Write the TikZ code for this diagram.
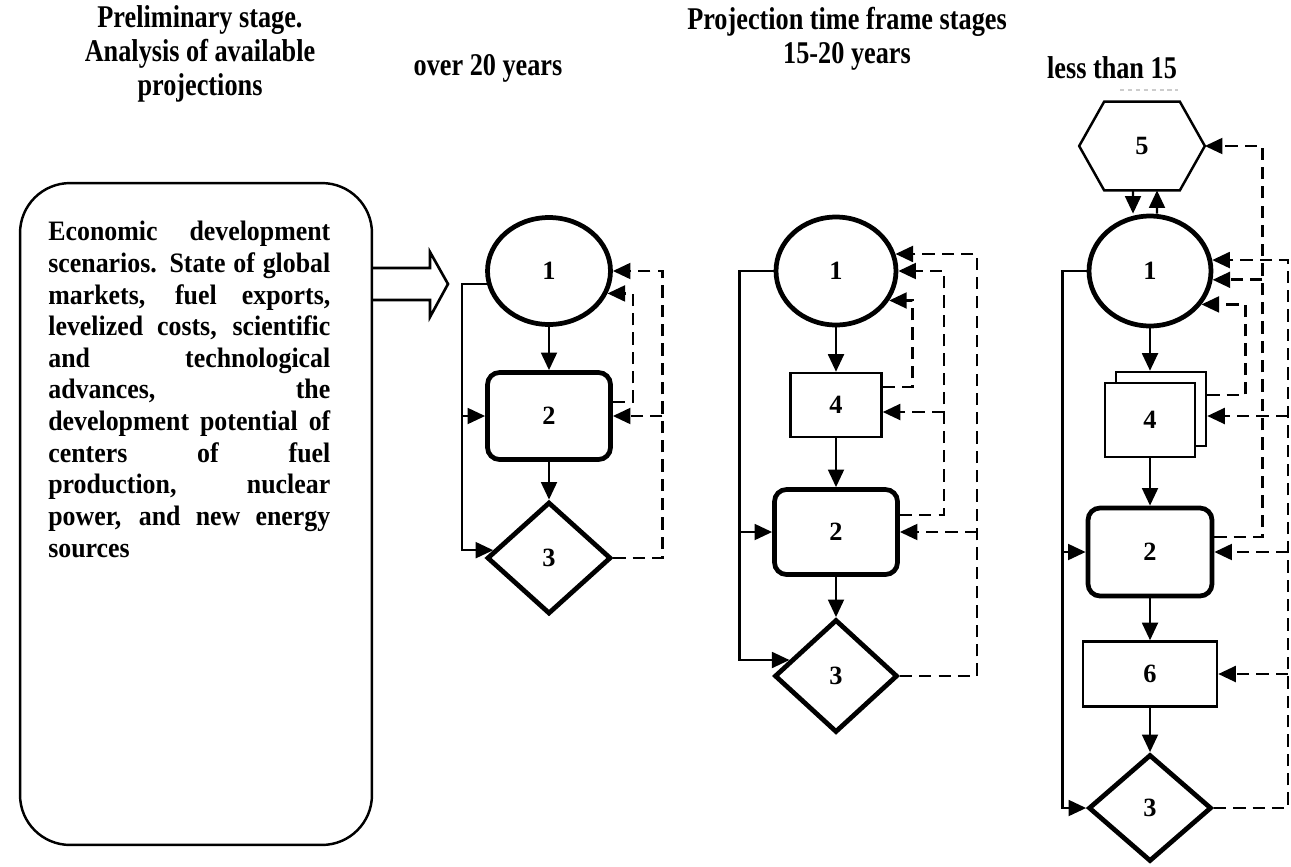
\documentclass[tikz,border=0pt]{standalone}
\usepackage{fontspec}
\setmainfont{Liberation Serif}
\newfontfamily\headfont[FakeStretch=0.83]{Liberation Serif}
\newfontfamily\bodyfont[FakeStretch=0.92]{Liberation Serif}
\usepackage{tikz}
\usetikzlibrary{arrows.meta}
\usetikzlibrary{calc}
\usetikzlibrary{positioning}
\usetikzlibrary{shapes.geometric}

\begin{document}
\begin{tikzpicture}[
    x=0.02cm, y=-0.02cm,
    num/.style={font=\fontsize{15}{17}\selectfont\bfseries, inner sep=0pt},
    oval/.style={num, ellipse, draw, line width=2.7pt},
    stagebox/.style={num, rectangle, draw, rounded corners=0.24cm, line width=2.7pt, minimum width=2.46cm, minimum height=1.74cm},
    plainbox/.style={num, rectangle, draw, fill=white, line width=1.4pt},
    choice/.style={num, diamond, draw, line width=2.7pt, minimum width=2.48cm, minimum height=2.24cm},
    arr/.style={line width=1.4pt, -{Triangle[length=10pt,width=9pt]}},
    darr/.style={line width=1.5pt, dash pattern=on 7pt off 4pt, -{Triangle[length=10pt,width=9pt]}},
    heading/.style={font=\headfont\bfseries\fontsize{18}{19.5}\selectfont, align=center, inner sep=0pt},
  ]

    \useasboundingbox (0,0) rectangle (1291,866);

    \node[heading] (prehead) at (200,54) {Preliminary stage.\\Analysis of available\\projections};
    \node[heading] (head20) at (488,68) {over 20 years};
    \node[heading] (headmid) at (847,39) {Projection time frame stages\\15-20 years};
    \node[heading] (head15) at (1112,68) {less than 15};

    \node[draw, line width=1.4pt, rounded corners=1cm, minimum width=7.04cm, minimum height=13.24cm] (pre) at (196,514) {};
    \node[anchor=north west, inner sep=0pt, text width=5.64cm, align=justify,
      font=\bodyfont\bfseries\fontsize{16}{18}\selectfont] (pretext) at (48,221)
      {\tolerance=10000\hbadness=10000 Economic development\linebreak
      scenarios. State of global\linebreak
      markets, fuel exports,\linebreak
      levelized costs, scientific\linebreak
      and technological\linebreak
      advances, the\linebreak
      development potential of\linebreak
      centers of fuel\linebreak
      production, nuclear\linebreak
      power, and new energy\linebreak
      sources};
    \draw[line width=1.5pt] (pre.east |- 0,268) -- (430,268) -- (430,252) -- (448,284)
      -- (430,317) -- (430,300) -- (pre.east |- 0,300);

    \node[oval, minimum width=2.46cm, minimum height=2.14cm] (a1) at (549,271) {1};
    \node[stagebox] (b1) at (549,416) {2};
    \node[choice] (d1) at (549,558) {3};

    \draw[arr] (a1) -- (b1);
    \draw[arr] (b1) -- (d1);
    \draw[arr] (a1.192) -- ++(-25,0) coordinate (l1) |- (d1.172);
    \draw[arr] (l1 |- b1.west) -- (b1.west);
    \draw[darr] (d1.east) -- ++(49,0) coordinate (o1) |- (a1.east);
    \draw[darr] (o1 |- b1.east) -- (b1.east);
    \draw[darr] ([yshift=0.28cm]b1.east) -- ++(20,0) |- (a1.-21);

    \node[oval, minimum width=2.4cm, minimum height=2.16cm] (a2) at (836,271) {1};
    \node[plainbox, minimum width=1.82cm, minimum height=1.28cm] (r2) at (836,405) {4};
    \node[stagebox, minimum height=1.7cm] (b2) at (836,532) {2};
    \node[choice, minimum width=2.46cm, minimum height=2.26cm] (d2) at (836,676) {3};

    \draw[arr] (a2) -- (r2);
    \draw[arr] (r2) -- (b2);
    \draw[arr] (b2) -- (d2);
    \draw[arr] (a2.west) -- ++(-34,0) coordinate (l2) |- (d2.161);
    \draw[arr] (l2 |- b2.west) -- (b2.west);
    \draw[darr] (d2.east) -- ++(77,0) coordinate (o2) |- (a2.16);
    \draw[darr] (o2 |- b2.east) -- (b2.east);
    \draw[darr] ([yshift=0.34cm]b2.east) -- ++(44,0) coordinate (m2) |- (a2.east);
    \draw[darr] ($(m2 |- r2.east)+(0,7)$) -- ($(r2.east)+(0,7)$);
    \draw[darr] ([yshift=0.36cm]r2.east) -- ++(30,0) |- (a2.-29);

    \draw[gray!40, line width=0.8pt, dash pattern=on 2.5pt off 2pt] (1120,90) -- (1178,90);
    \node[num, minimum width=1.5cm, minimum height=1.76cm] (h3) at (1142,146) {5};
    \draw[line width=1.4pt] (h3.north west) -- (h3.north east) -- ($(h3.east)+(25,0)$) coordinate (h3r)
      -- (h3.south east) -- (h3.south west) -- ($(h3.west)+(-25,0)$) -- cycle;
    \node[oval, minimum width=2.44cm, minimum height=2.2cm] (a3) at (1150,271) {1};
    \node[plainbox, minimum width=1.8cm, minimum height=1.48cm] (r3b) at (1161,409) {};
    \node[plainbox, minimum width=1.8cm, minimum height=1.48cm] (r3) at (1150,420) {4};
    \node[stagebox, minimum width=2.48cm, minimum height=1.76cm] (b3) at (1150,552) {2};
    \node[plainbox, minimum width=2.68cm, minimum height=1.3cm] (s3) at (1150,674) {6};
    \node[choice, minimum width=2.46cm, minimum height=2.14cm] (d3) at (1150,808) {3};

    \draw[arr] ([xshift=-0.18cm]h3.south) -- ([xshift=-0.34cm]a3.north);
    \draw[arr] ([xshift=0.14cm]a3.north) -- ([xshift=0.3cm]h3.south);
    \draw[arr] (a3.south) -- (a3.south |- r3b.north);
    \draw[arr] (r3) -- (b3);
    \draw[arr] (b3) -- (s3);
    \draw[arr] (s3) -- (d3);
    \draw[arr] (a3.west) -- ++(-24,0) coordinate (l3) |- (d3.west);
    \draw[arr] (l3 |- b3.west) -- (b3.west);
    \draw[darr] (d3.east) -- ++(74,0) coordinate (o3) |- (a3.10);
    \draw[darr] ($(o3 |- r3b.east)+(0,7)$) -- ($(r3b.east)+(0,7)$);
    \draw[darr] (o3 |- b3.east) -- (b3.east);
    \draw[darr] (o3 |- s3.east) -- (s3.east);
    \draw[darr] ([yshift=0.3cm]b3.east) -- ++(48,0) coordinate (m3) |- (h3r);
    \draw[darr] (m3 |- a3.-8) -- (a3.-8);
    \draw[darr] ([yshift=0.28cm]r3b.east) -- ++(38,0) |- (a3.-33);

  \end{tikzpicture}
\end{document}
